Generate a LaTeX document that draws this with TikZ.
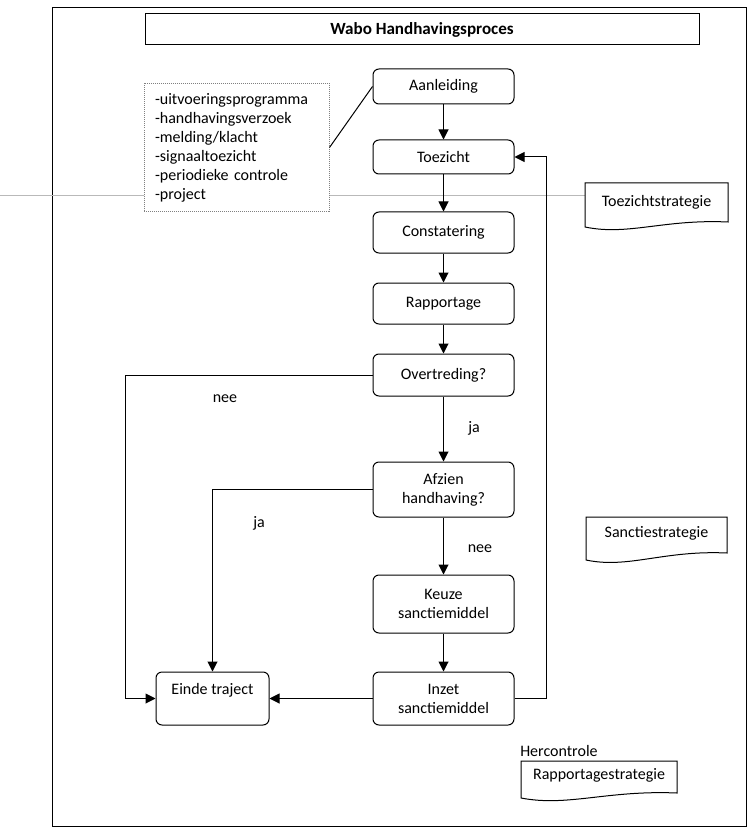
\documentclass[tikz,border=0pt]{standalone}
\usepackage{fontspec}
\setmainfont{Carlito}
\usetikzlibrary{arrows.meta}
\begin{document}
\begin{tikzpicture}[x=0.75pt,y=-0.75pt,
  every node/.style={font=\fontsize{12}{14.25}\selectfont},
  flowbox/.style={draw, rounded corners=4.5pt, minimum width=105.75pt, align=center, line width=0.75pt, inner sep=2pt},
  arr/.style={-{Triangle[length=7.5pt,width=7.5pt]}, line width=0.75pt},
  conn/.style={line width=0.75pt},
  docshape/.style={draw, line width=0.75pt, fill=white},
  lbl/.style={inner sep=0pt}]
\useasboundingbox (0,0) rectangle (755,834);
% frame
\draw[line width=0.75pt] (52,8) rectangle (746,826);
\node[draw, line width=0.75pt, minimum width=415.5pt, minimum height=23.25pt, font=\fontsize{12.8}{15}\selectfont\bfseries] (title) at (422,29.5) {Wabo Handhavingsproces};
% gray horizontal line
\coordinate (gl) at (0,196);
\coordinate (gr) at (585,196);
\draw[gray!55, line width=0.75pt] (gl) -- (gr);
% list box
\node[draw=gray, dash pattern=on 0.75pt off 0.75pt, line width=0.75pt, fill=white, minimum width=138.75pt, minimum height=96pt, text width=122.25pt, inner xsep=8.25pt, align=left] (list) at (236.5,147.5)
 {-uitvoeringsprogramma\\-handhavingsverzoek\\-melding/klacht\\-signaaltoezicht\\-periodieke controle\\-project};
% flow boxes
\node[flowbox, minimum height=26.25pt] (aan) at (443.5,86.5) {Aanleiding};
\node[flowbox, minimum height=25.5pt] (toe) at (443.5,157) {Toezicht};
\node[flowbox, minimum height=30.75pt] (con) at (443.5,232.5) {Constatering};
\node[flowbox, minimum height=30.75pt] (rap) at (443.5,303.5) {Rapportage};
\node[flowbox, minimum height=31.5pt] (ovt) at (443.5,375) {Overtreding?};
\node[flowbox, minimum height=41.25pt] (afz) at (443.5,489.5) {Afzien\\handhaving?};
\node[flowbox, minimum height=43.5pt] (keu) at (443.5,604) {Keuze\\sanctiemiddel};
\node[flowbox, minimum height=39.75pt] (inz) at (443.5,698.5) {Inzet\\sanctiemiddel};
\node[flowbox, minimum width=84.75pt, minimum height=39.75pt] (ein) at (212.5,698.5) {Einde traject\\\mbox{}};
% connectors
\draw[conn] (list.east) -- (aan.west);
\draw[arr] (aan) -- (toe);
\draw[arr] (toe) -- (con);
\draw[arr] (con) -- (rap);
\draw[arr] (rap) -- (ovt);
\draw[arr] (ovt) -- (afz);
\draw[arr] (afz) -- (keu);
\draw[arr] (keu) -- (inz);
\draw[arr] (inz.west) -- (ein.east);
\coordinate (c1) at (125,375);
\draw[arr] (ovt.west) -- (c1) |- (ein.west);
\coordinate (c2) at (212.5,489.5);
\draw[arr] (afz.west) -- (c2) -- (ein.north);
\coordinate (c3) at (546,698.5);
\draw[arr] (inz.east) -- (c3) |- (toe.east);
% labels
\node[lbl] (l1) at (225,399) {nee};
\node[lbl] (l2) at (474,428) {ja};
\node[lbl] (l3) at (259,523) {ja};
\node[lbl] (l4) at (480,549) {nee};
% document shapes
\draw[docshape] (585,183) -- (728,183) -- (728,222) .. controls (585+0.55*143,219) and (585+0.3*143,236) .. (585,227) -- cycle;
\node[lbl] (ts) at (656.5,202) {Toezichtstrategie};
\draw[docshape] (586,517) -- (727,517) -- (727,553) .. controls (586+0.55*141,550) and (586+0.3*141,569) .. (586,560) -- cycle;
\node[lbl] (ss) at (656.5,533) {Sanctiestrategie};
\node[lbl, anchor=west] (hc) at (520,751) {Hercontrole};
\draw[docshape] (521,761) -- (677,761) -- (677,793) .. controls (521+0.55*156,790) and (521+0.3*156,807) .. (521,798) -- cycle;
\node[lbl] (rs) at (599,775.5) {Rapportagestrategie};
\end{tikzpicture}
\end{document}
